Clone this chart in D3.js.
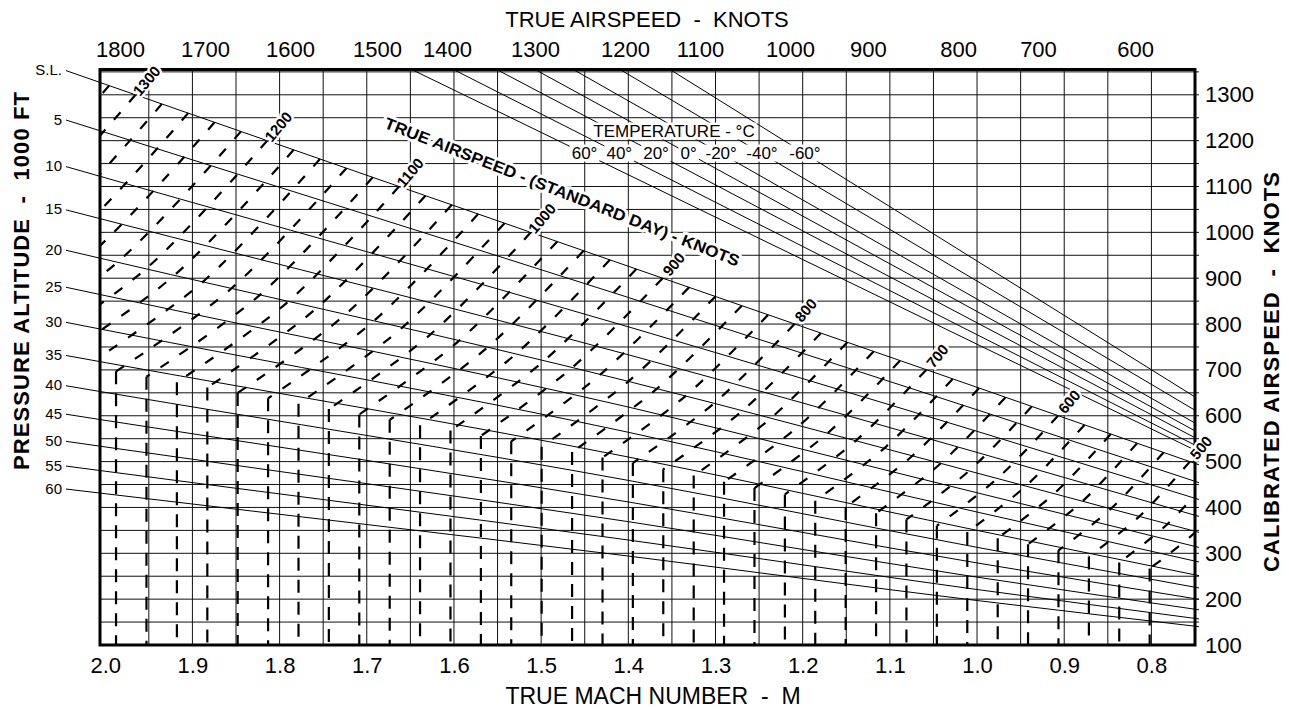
<!DOCTYPE html>
<html>
<head>
<meta charset="utf-8">
<script src="https://cdn.jsdelivr.net/npm/d3@7"></script>
<style>
	body { margin: 0; background: #fff; }
	svg { display: block; font-family: 'Liberation Sans', Arial, sans-serif; }
	.pre { white-space: pre; }
</style>
</head>
<body>
<svg id="chart" width="1289" height="710"></svg>
<script>
// pressure altitude lines: calibrated airspeed (kt) read at Mach 2.0, 1.4, 1.0 and 0.75
const altitudeLabels = ['S.L.', '5', '10', '15', '20', '25', '30', '35', '40', '45', '50', '55', '60'];
const altitudeMach = [2.0, 1.4, 1.0, 0.75];
const casAtMach20 = [1323, 1218, 1119, 1027, 941, 862, 787, 716, 651, 590, 532, 479, 430];
const casAtMach14 = [926, 858, 794, 733, 675, 619, 564, 510, 459, 412, 369, 329, 294];
const casAtMach10 = [662, 613, 566, 520, 475, 432, 390, 350, 313, 279, 248, 221, 197];
const casAtMach075 = [496, 457, 420, 383, 348, 315, 283, 253, 226, 201, 178, 158, 141];
// tropopause, where the standard day TAS lines turn vertical (not drawn)
const tropopauseCas = [701, 499, 342, 247];

// true airspeed (standard day) dashed lines: Mach where each meets S.L., 20,000 ft and the tropopause
const tasKnots = [1320, 1300, 1280, 1260, 1240, 1220, 1200, 1180, 1160, 1140, 1120, 1100, 1080, 1060, 1040,
	1020, 1000, 980, 960, 940, 920, 900, 880, 860, 840, 820, 800, 780, 760, 740, 720, 700, 680, 660, 640,
	620, 600, 580, 560, 540, 520, 500, 480, 460];
const tasMachSeaLevel = [1.9956, 1.9653, 1.9351, 1.9049, 1.8746, 1.8444, 1.8142, 1.7839, 1.7537, 1.7234,
	1.6932, 1.663, 1.6327, 1.6025, 1.5723, 1.542, 1.5118, 1.4815, 1.4513, 1.4211, 1.3908, 1.3606, 1.3304,
	1.3001, 1.2699, 1.2397, 1.2094, 1.1792, 1.149, 1.1187, 1.0885, 1.0583, 1.028, 0.9978, 0.9675, 0.9373,
	0.9071, 0.8768, 0.8466, 0.8164, 0.7861, 0.7559, 0.7257, 0.6954];
const tasMach20k = [2.1488, 2.1162, 2.0836, 2.0511, 2.0185, 1.986, 1.9534, 1.9209, 1.8883, 1.8557, 1.8232,
	1.7906, 1.7581, 1.7255, 1.693, 1.6604, 1.6278, 1.5953, 1.5627, 1.5302, 1.4976, 1.4651, 1.4325, 1.3999,
	1.3674, 1.3348, 1.3023, 1.2697, 1.2372, 1.2046, 1.172, 1.1395, 1.1069, 1.0744, 1.0418, 1.0093, 0.9767,
	0.9441, 0.9116, 0.879, 0.8465, 0.8139, 0.7814, 0.7488];
const tasMachTropopause = [2.3014, 2.2665, 2.2316, 2.1968, 2.1619, 2.127, 2.0922, 2.0573, 2.0224, 1.9876,
	1.9527, 1.9178, 1.8829, 1.8481, 1.8132, 1.7783, 1.7435, 1.7086, 1.6737, 1.6389, 1.604, 1.5691, 1.5343,
	1.4994, 1.4645, 1.4296, 1.3948, 1.3599, 1.325, 1.2902, 1.2553, 1.2204, 1.1856, 1.1507, 1.1158, 1.081,
	1.0461, 1.0112, 0.9763, 0.9415, 0.9066, 0.8717, 0.8369, 0.802];
const tasLabelKnots = [1300, 1200, 1100, 1000, 900, 800, 700, 600, 500];

// temperature lines: Mach where each leaves the top border, CAS where it reaches the right border
const temperatureLabels = ['60°', '40°', '20°', '0°', '-20°', '-40°', '-60°'];
const temperatureTopMach = [1.6485, 1.6007, 1.551, 1.507, 1.4631, 1.4095, 1.3522];
const temperatureEndCas = [525, 536, 552, 567, 584, 612, 641];

// axis tick labels
const machTicks = [2.0, 1.9, 1.8, 1.7, 1.6, 1.5, 1.4, 1.3, 1.2, 1.1, 1.0, 0.9, 0.8];
const casTicks = [100, 200, 300, 400, 500, 600, 700, 800, 900, 1000, 1100, 1200, 1300];
const topTasTicks = [1800, 1700, 1600, 1500, 1400, 1300, 1200, 1100, 1000, 900, 800, 700, 600];
const topTasTickMach = [1.9831, 1.8856, 1.7881, 1.6883, 1.608, 1.507, 1.4038, 1.3178, 1.2145, 1.1251,
	1.0218, 0.9301, 0.8188];

const svg = d3.select('#chart');
const x = d3.scaleLinear().domain([2.006, 0.75]).range([100, 1195]);
const y = d3.scaleLinear().domain([100, 1300]).range([645, 94.8]);
const casTop = y.invert(69.5);
const machLeft = 2.006;
const machRight = 0.75;

svg.append('defs')
	.append('clipPath')
	.attr('id', 'plot-clip')
	.append('rect')
	.attr('x', x(machLeft))
	.attr('y', y(casTop))
	.attr('width', x(machRight) - x(machLeft))
	.attr('height', y(100) - y(casTop));

// grid
const grid = svg.append('g').attr('stroke', '#111').attr('stroke-width', 1);
grid.selectAll('.vgrid')
	.data(d3.range(0.8, 1.96, 0.05))
	.join('line')
	.attr('class', 'vgrid')
	.attr('x1', (d) => x(d))
	.attr('x2', (d) => x(d))
	.attr('y1', y(casTop))
	.attr('y2', y(100));
grid.selectAll('.hgrid')
	.data(d3.range(150, 1351, 50))
	.join('line')
	.attr('class', 'hgrid')
	.attr('x1', x(machLeft))
	.attr('x2', x(machRight) + 4)
	.attr('y1', (d) => y(d))
	.attr('y2', (d) => y(d));

const toPath = d3.line()
	.x((d) => x(d[0]))
	.y((d) => y(d[1]));

// altitude lines, with leaders out to the labels
const altitudeRows = altitudeLabels.map((label, i) => ({
	label,
	cas: d3.scaleLinear()
		.domain(altitudeMach)
		.range([casAtMach20[i], casAtMach14[i], casAtMach10[i], casAtMach075[i]]),
}));
const leaderMach = x.invert(66);
const altitudeLayer = svg.append('g');
altitudeLayer.selectAll('path')
	.data(altitudeRows)
	.join('path')
	.attr('fill', 'none')
	.attr('stroke', '#000')
	.attr('stroke-width', 1)
	.attr('d', (row) =>
		toPath.curve(d3.curveMonotoneX)(
			[leaderMach, ...altitudeMach, x.invert(1199)].map((m) => [m, row.cas(m)])
		)
	);
altitudeLayer.selectAll('text')
	.data(altitudeRows)
	.join('text')
	.attr('x', 62)
	.attr('y', (row) => y(row.cas(leaderMach)) - 1)
	.attr('text-anchor', 'end')
	.attr('dominant-baseline', 'central')
	.attr('font-size', 15)
	.text((row) => row.label);

// temperature lines
const temperatureRows = temperatureLabels.map((label, i) => {
	const t = (casTop - 1173) / (casTop - temperatureEndCas[i]);
	return {
		label,
		start: [temperatureTopMach[i], casTop],
		end: [machRight, temperatureEndCas[i]],
		labelAt: [temperatureTopMach[i] + t * (machRight - temperatureTopMach[i]), 1173],
	};
});
svg.append('g')
	.selectAll('path')
	.data(temperatureRows)
	.join('path')
	.attr('fill', 'none')
	.attr('stroke', '#000')
	.attr('stroke-width', 1)
	.attr('d', (row) => toPath.curve(d3.curveLinear)([row.start, row.end]));

// standard day true airspeed lines
const alt20k = altitudeRows[4].cas;
const tropopause = d3.scaleLinear().domain(altitudeMach).range(tropopauseCas);
const tasRows = tasKnots.map((knots, i) => ({
	knots,
	curve: [
		[tasMachSeaLevel[i], knots],
		[tasMach20k[i], alt20k(tasMach20k[i])],
		[tasMachTropopause[i], tropopause(tasMachTropopause[i])],
	],
	vertical: [
		[tasMachTropopause[i], tropopause(tasMachTropopause[i])],
		[tasMachTropopause[i], 100],
	],
}));
const tasLayer = svg.append('g')
	.attr('clip-path', 'url(#plot-clip)')
	.attr('fill', 'none')
	.attr('stroke', '#000')
	.attr('stroke-width', 2.2);
tasLayer.selectAll('.slant')
	.data(tasRows)
	.join('path')
	.attr('class', 'slant')
	.attr('stroke-dasharray', '10,13')
	.attr('d', (row) => toPath.curve(d3.curveCatmullRom.alpha(0.5))(row.curve));
tasLayer.selectAll('.vertical')
	.data(tasRows)
	.join('path')
	.attr('class', 'vertical')
	.attr('stroke-dasharray', '13,9')
	.attr('d', (row) => toPath.curve(d3.curveLinear)(row.vertical));

// frame
svg.append('rect')
	.attr('x', x(machLeft))
	.attr('y', y(casTop))
	.attr('width', x(machRight) - x(machLeft))
	.attr('height', y(100) - y(casTop))
	.attr('fill', 'none')
	.attr('stroke', '#000')
	.attr('stroke-width', 3);

// labels that sit on the lines, knocked out in white
const halo = (sel, w) =>
	sel.attr('stroke', '#fff').attr('stroke-width', w).attr('stroke-linejoin', 'round').attr('paint-order', 'stroke');

svg.append('g')
	.selectAll('text')
	.data(tasLabelKnots)
	.join('text')
	.attr('transform', (v) => {
		const m = tasMachSeaLevel[tasKnots.indexOf(v)];
		return `translate(${x(m) + 11},${y(v) - 14}) rotate(-50)`;
	})
	.attr('text-anchor', 'middle')
	.attr('dominant-baseline', 'central')
	.attr('font-size', 15)
	.attr('font-weight', 'bold')
	.text((v) => v)
	.call(halo, 5);

svg.append('text')
	.attr('class', 'pre')
	.attr('transform', `translate(${x(1.476)},${y(1088)}) rotate(21.5)`)
	.attr('text-anchor', 'middle')
	.attr('dominant-baseline', 'central')
	.attr('font-size', 16)
	.attr('font-weight', 'bold')
	.attr('textLength', 380)
	.attr('lengthAdjust', 'spacingAndGlyphs')
	.text('TRUE AIRSPEED - (STANDARD DAY) - KNOTS')
	.call(halo, 6);

const boxed = svg.append('g');
const boxedTexts = boxed.selectAll('text')
	.data([{ label: 'TEMPERATURE - °C', at: [1.3476, 1221], dx: 0 }].concat(
		temperatureRows.map((row) => ({ label: row.label, at: row.labelAt, dx: 1 }))
	))
	.join('text')
	.attr('x', (d) => x(d.at[0]) + d.dx)
	.attr('y', (d) => y(d.at[1]))
	.attr('text-anchor', 'middle')
	.attr('dominant-baseline', 'central')
	.attr('font-size', 17)
	.text((d) => d.label);
boxedTexts.each(function () {
	const b = this.getBBox();
	boxed.insert('rect', 'text')
		.attr('x', b.x - 2)
		.attr('y', b.y + 1)
		.attr('width', b.width + 4)
		.attr('height', b.height - 2)
		.attr('fill', '#fff');
});

// axes
const plain = d3.format('d');
const bottomAxis = svg.append('g')
	.attr('transform', `translate(0,${y(100)})`)
	.call(d3.axisBottom(x).tickValues(machTicks).tickFormat(d3.format('.1f')).tickSize(0).tickPadding(12));
const rightAxis = svg.append('g')
	.attr('transform', `translate(${x(machRight)},0)`)
	.call(d3.axisRight(y).tickValues(casTicks).tickFormat(plain).tickSize(0).tickPadding(10));
const topScale = d3.scaleLinear().domain(topTasTicks).range(topTasTickMach.map((m) => x(m)));
const topAxis = svg.append('g')
	.attr('transform', `translate(0,${y(casTop)})`)
	.call(d3.axisTop(topScale).tickValues(topTasTicks).tickFormat(plain).tickSize(0).tickPadding(13));
[bottomAxis, rightAxis, topAxis].forEach((axis) => {
	axis.select('.domain').remove();
	axis.selectAll('text').attr('font-size', 22).attr('font-family', "'Liberation Sans', Arial, sans-serif").attr('fill', '#000');
});

// titles
svg.append('text')
	.attr('class', 'pre')
	.attr('x', 647)
	.attr('y', 27)
	.attr('text-anchor', 'middle')
	.attr('font-size', 22)
	.text('TRUE AIRSPEED  -  KNOTS');
svg.append('text')
	.attr('class', 'pre')
	.attr('x', 653)
	.attr('y', 704)
	.attr('text-anchor', 'middle')
	.attr('font-size', 23)
	.text('TRUE MACH NUMBER  -  M');
svg.append('text')
	.attr('class', 'pre')
	.attr('transform', 'translate(29,281) rotate(-90)')
	.attr('text-anchor', 'middle')
	.attr('font-size', 22)
	.attr('font-weight', 'bold')
	.attr('textLength', 378)
	.text('PRESSURE ALTITUDE  -  1000 FT');
svg.append('text')
	.attr('class', 'pre')
	.attr('transform', 'translate(1279,372) rotate(-90)')
	.attr('text-anchor', 'middle')
	.attr('font-size', 22)
	.attr('font-weight', 'bold')
	.attr('textLength', 400)
	.text('CALIBRATED AIRSPEED  -  KNOTS');
</script>
</body>
</html>
